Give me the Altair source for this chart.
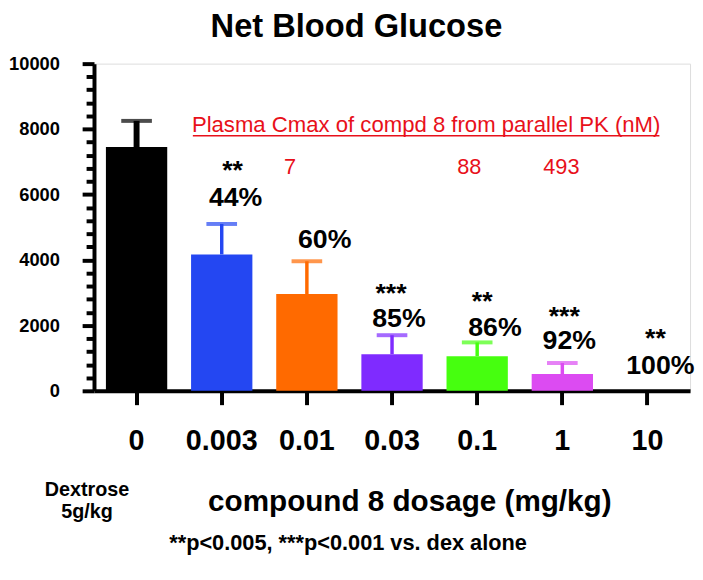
import altair as alt
import pandas as pd

# ---- data ----
doses = ["0", "0.003", "0.01", "0.03", "0.1", "1", "10"]
glucose_mean = [7450, 4170, 2960, 1120, 1060, 515, 0]
glucose_upper = [8250, 5100, 3960, 1700, 1480, 850, 0]
bar_colors = ["#000000", "#2447f2", "#ff6a00", "#7f2bff", "#46ff0f", "#dc4bf2", "#ffffff"]

stars = ["", "**", "", "***", "**", "***", "**"]
star_level = [0, 6465, 0, 2720, 2477, 2024, 1330]
percent = ["", "44%", "60%", "85%", "86%", "92%", "100%"]
percent_level = [0, 5650, 4380, 1964, 1662, 1269, 514]
cmax = ["", "", "7", "", "88", "493", ""]
cmax_level = 6616
y_tick_values = list(range(0, 10001, 400))

# small horizontal nudges of the annotations (px)
star_nudge = [0, 11, 0, -1, 5, 2, 8]
pct_nudge = [0, 14, 18, 7, 18, 7, 13]
cmax_nudge = [0, 0, -17, 0, -8, -1, 0]

FONT = "Liberation Sans, Arial, Helvetica, sans-serif"

df = pd.DataFrame({"dose": doses, "mean": glucose_mean, "upper": glucose_upper})
err_df = df[df["upper"] > df["mean"]]

x_enc = alt.X(
    "dose:N",
    sort=doses,
    scale=alt.Scale(paddingInner=0.28, paddingOuter=0.14),
    axis=alt.Axis(
        title="compound 8 dosage (mg/kg)",
        titleFont=FONT, titleFontSize=30, titleFontWeight="bold", titleColor="black",
        titlePadding=32, titleX=319, titleAlign="center",
        labelFont=FONT, labelFontSize=29, labelFontWeight="bold", labelColor="black",
        labelPadding=22, labelAngle=0,
        domainColor="black", domainWidth=4,
        tickColor="black", tickWidth=4, tickSize=14,
    ),
)
x_plain = alt.X("dose:N", sort=doses)

y_scale = alt.Scale(domain=[0, 10000], nice=False, zero=True)
y_enc = alt.Y(
    "mean:Q",
    scale=y_scale,
    axis=alt.Axis(
        title=None,
        values=y_tick_values,
        tickCount=len(y_tick_values) + 1,
        labelExpr="datum.value % 2000 === 0 ? datum.value : ''",
        labelOverlap=False,
        labelFont=FONT, labelFontSize=18.5, labelFontWeight="bold", labelColor="black",
        labelPadding=23,
        domainColor="black", domainWidth=4,
        tickColor="black", tickWidth=4,
        tickSize={"condition": {"test": "datum.value % 2000 === 0", "value": 12}, "value": 8},
        grid=False,
    ),
)


def y_plain(field):
    return alt.Y(field, scale=y_scale)


color_scale = alt.Scale(domain=doses, range=bar_colors)

bars = alt.Chart(df).mark_bar().encode(
    x=x_enc,
    y=y_enc,
    color=alt.Color("dose:N", scale=color_scale, legend=None),
)

stems = alt.Chart(err_df).mark_rule().encode(
    x=x_plain,
    y=y_plain("mean:Q"),
    y2="upper:Q",
    color=alt.Color("dose:N", scale=color_scale, legend=None),
    strokeWidth=alt.condition(alt.datum.dose == "0", alt.value(6), alt.value(3.5)),
)

caps = alt.Chart(err_df).mark_tick(orient="horizontal", size=31, thickness=4).encode(
    x=x_plain,
    y=y_plain("upper:Q"),
    color=alt.Color("dose:N", scale=color_scale, legend=None),
)

layers = [bars, stems, caps]

for i, d in enumerate(doses):
    if stars[i]:
        layers.append(
            alt.Chart(pd.DataFrame({"dose": [d], "lvl": [star_level[i]], "t": [stars[i]]}))
            .mark_text(font=FONT, fontSize=27, fontWeight="bold", color="black",
                       baseline="alphabetic", align="center", dx=star_nudge[i])
            .encode(x=x_plain, y=y_plain("lvl:Q"), text="t:N")
        )
    if percent[i]:
        layers.append(
            alt.Chart(pd.DataFrame({"dose": [d], "lvl": [percent_level[i]], "t": [percent[i]]}))
            .mark_text(font=FONT, fontSize=27, fontWeight="bold", color="black",
                       baseline="alphabetic", align="center", dx=pct_nudge[i])
            .encode(x=x_plain, y=y_plain("lvl:Q"), text="t:N")
        )
    if cmax[i]:
        layers.append(
            alt.Chart(pd.DataFrame({"dose": [d], "lvl": [cmax_level], "t": [cmax[i]]}))
            .mark_text(font=FONT, fontSize=22, color="#e8101a",
                       baseline="alphabetic", align="center", dx=cmax_nudge[i])
            .encode(x=x_plain, y=y_plain("lvl:Q"), text="t:N")
        )

# red heading with underline
red_head = alt.Chart(pd.DataFrame({"t": ["Plasma Cmax of compd 8 from parallel PK (nM)"]})).mark_text(
    font=FONT, fontSize=22.4, color="#e8101a", baseline="alphabetic", align="center"
).encode(x=alt.value(336), y=alt.value(69), text="t:N")
underline = alt.Chart(pd.DataFrame({"a": [0]})).mark_rule(color="#e8101a", strokeWidth=1.5).encode(
    x=alt.value(100), x2=alt.value(572), y=alt.value(73)
)

dextrose = alt.Chart(pd.DataFrame({"t": [["Dextrose", "5g/kg"]]})).mark_text(
    font=FONT, fontSize=20, fontWeight="bold", color="black", baseline="alphabetic",
    align="center", lineHeight=23
).encode(x=alt.value(-7), y=alt.value(437), text="t")

footnote = alt.Chart(pd.DataFrame({"t": ["**p<0.005, ***p<0.001 vs. dex alone"]})).mark_text(
    font=FONT, fontSize=22, fontWeight="bold", color="black", baseline="alphabetic", align="center"
).encode(x=alt.value(257), y=alt.value(492), text="t:N")

layers += [red_head, underline, dextrose, footnote]

chart = alt.layer(*layers).properties(
    width=603,
    height=331,
    autosize=alt.AutoSizeParams(type="none"),
    padding={"left": 87, "top": 53, "right": 5, "bottom": 180},
    title=alt.TitleParams(
        "Net Blood Glucose", font=FONT, fontSize=33, fontWeight="bold", color="black",
        anchor="middle", dx=-36, offset=11,
    ),
).configure_view(strokeWidth=0).configure(background="white")

chart.save("out.html", embed_options={"renderer": "svg", "actions": False})
